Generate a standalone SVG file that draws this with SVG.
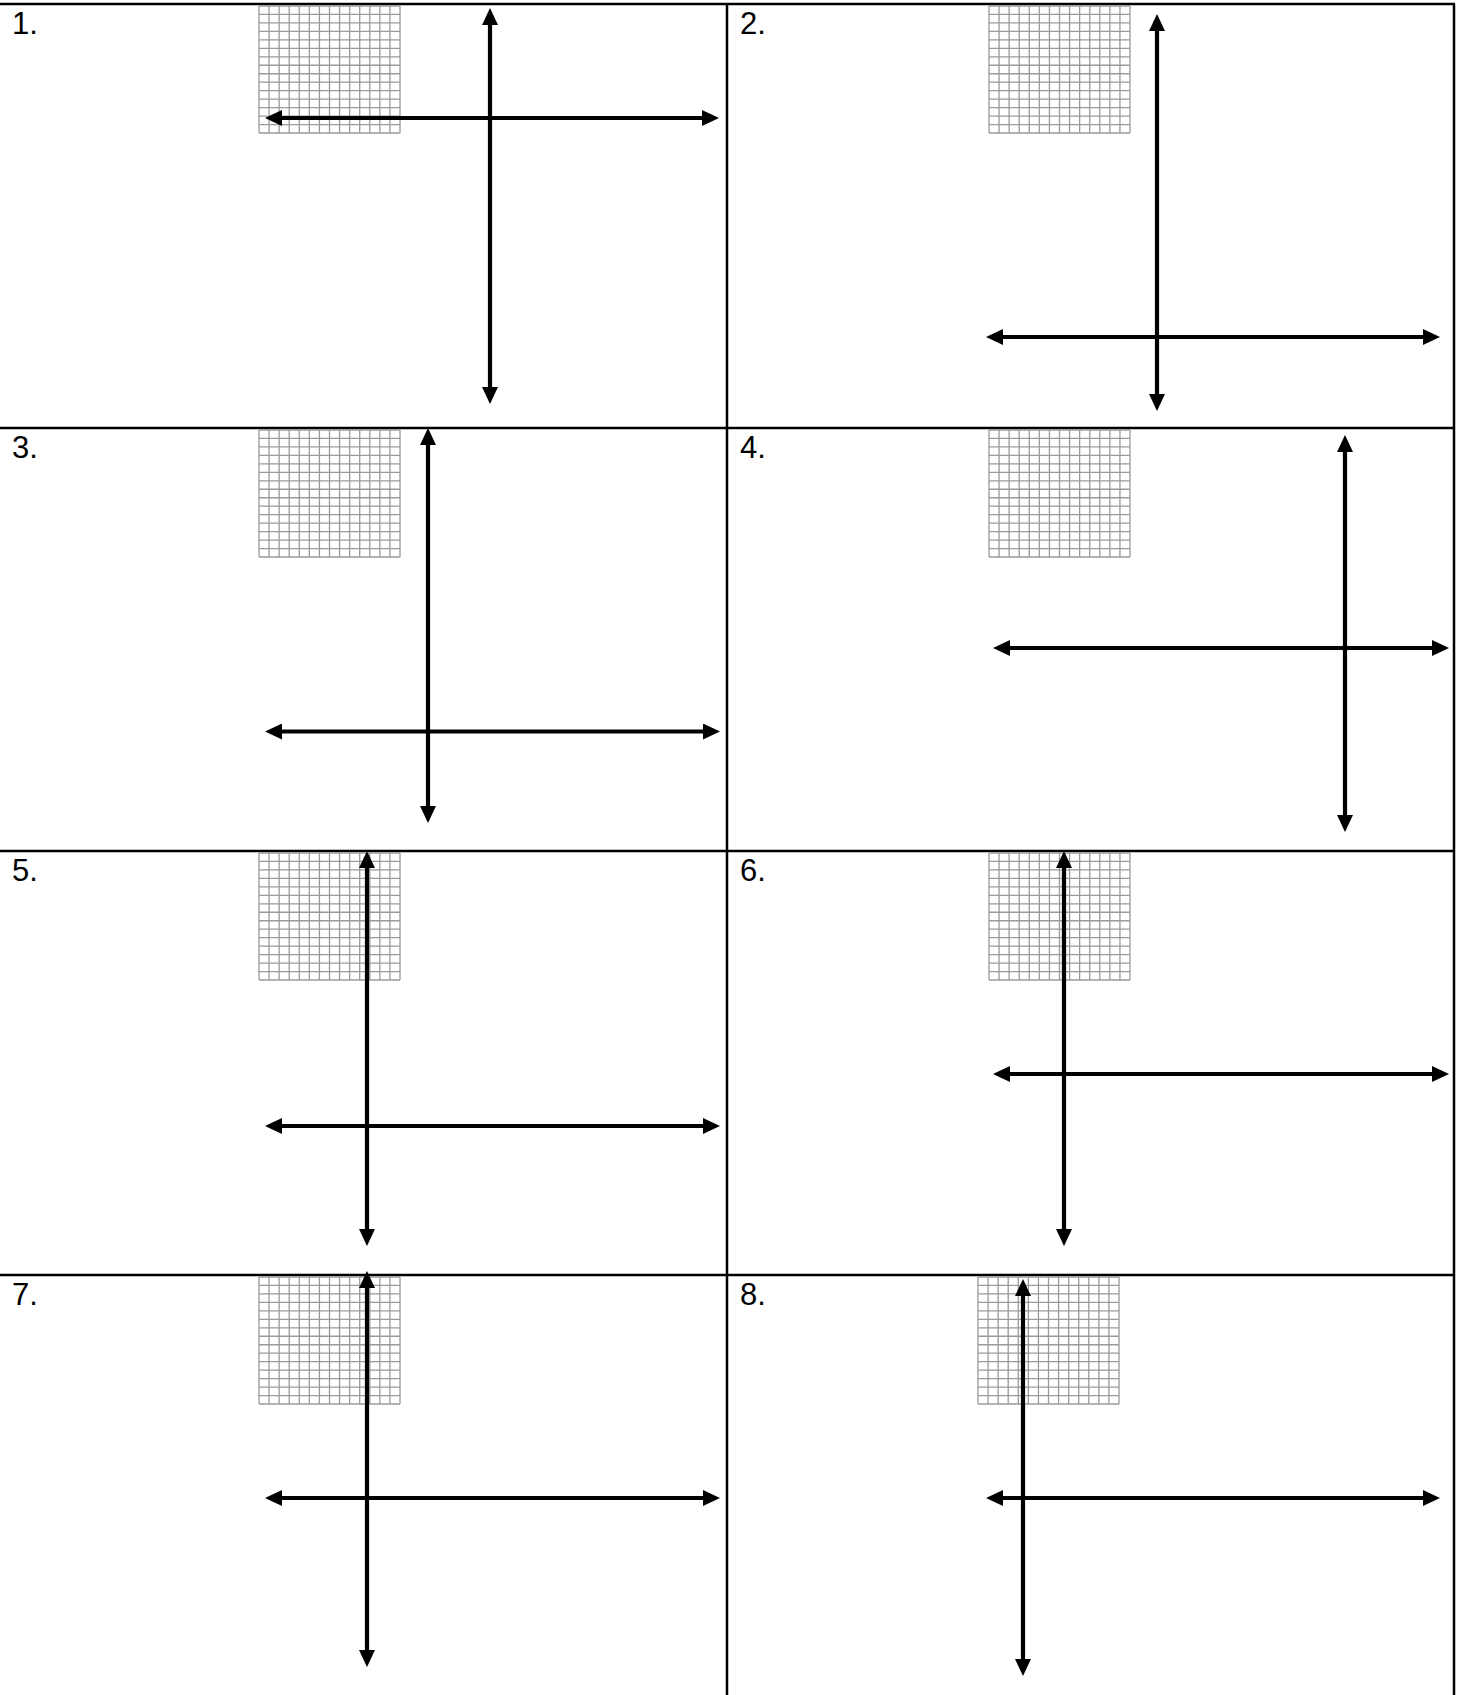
<svg xmlns="http://www.w3.org/2000/svg" xmlns:xlink="http://www.w3.org/1999/xlink" width="1461" height="1695" viewBox="0 0 1461 1695">
<style>
.border{stroke:#000;stroke-width:2.5;fill:none}
.axis{stroke:#000;stroke-width:4.2;fill:none;marker-start:url(#ah);marker-end:url(#ah)}
.lbl{font-family:"Liberation Sans",Arial,sans-serif;font-size:31px;fill:#000}
.gl{stroke:#9a9a9a;stroke-width:1.3;fill:none}
</style>
<defs>
<marker id="ah" markerUnits="userSpaceOnUse" markerWidth="17" markerHeight="16" viewBox="0 0 17 16" refX="7" refY="8" orient="auto-start-reverse">
<path d="M0,0 L17,8 L0,16 z" fill="#000"/>
</marker>
<g id="grid">
<rect x="0" y="0" width="141" height="127" fill="#fff"/>
<path class="gl" d="M0,0V127 M10.07,0V127 M20.14,0V127 M30.21,0V127 M40.29,0V127 M50.36,0V127 M60.43,0V127 M70.5,0V127 M80.57,0V127 M90.64,0V127 M100.71,0V127 M110.79,0V127 M120.86,0V127 M130.93,0V127 M141,0V127 M0,0H141 M0,8.47H141 M0,16.93H141 M0,25.4H141 M0,33.87H141 M0,42.33H141 M0,50.8H141 M0,59.27H141 M0,67.73H141 M0,76.2H141 M0,84.67H141 M0,93.13H141 M0,101.6H141 M0,110.07H141 M0,118.53H141 M0,127H141"/>
</g>
</defs>
<rect width="1461" height="1695" fill="#fff"/>
<g id="table">
<line class="border" x1="0" y1="4" x2="1455" y2="4"/>
<line class="border" x1="0" y1="428" x2="1455" y2="428"/>
<line class="border" x1="0" y1="851" x2="1455" y2="851"/>
<line class="border" x1="0" y1="1275" x2="1455" y2="1275"/>
<line class="border" x1="727" y1="4" x2="727" y2="1695"/>
<line class="border" x1="1454" y1="4" x2="1454" y2="1695"/>
</g>
<g id="panel1">
<text class="lbl" x="12" y="34">1.</text>
<use xlink:href="#grid" x="259" y="6"/>
</g>
<g id="panel2">
<text class="lbl" x="740" y="34">2.</text>
<use xlink:href="#grid" x="989" y="6"/>
</g>
<g id="panel3">
<text class="lbl" x="12" y="458">3.</text>
<use xlink:href="#grid" x="259" y="430"/>
</g>
<g id="panel4">
<text class="lbl" x="740" y="458">4.</text>
<use xlink:href="#grid" x="989" y="430"/>
</g>
<g id="panel5">
<text class="lbl" x="12" y="881">5.</text>
<use xlink:href="#grid" x="259" y="853"/>
</g>
<g id="panel6">
<text class="lbl" x="740" y="881">6.</text>
<use xlink:href="#grid" x="989" y="853"/>
</g>
<g id="panel7">
<text class="lbl" x="12" y="1305">7.</text>
<use xlink:href="#grid" x="259" y="1277"/>
</g>
<g id="panel8">
<text class="lbl" x="740" y="1305">8.</text>
<use xlink:href="#grid" x="978" y="1277"/>
</g>
<g id="axes">
<line class="axis" x1="490" y1="18" x2="490" y2="394"/>
<line class="axis" x1="275" y1="118" x2="709" y2="118"/>
<line class="axis" x1="1157" y1="24" x2="1157" y2="401"/>
<line class="axis" x1="996" y1="337" x2="1430" y2="337"/>
<line class="axis" x1="428" y1="438" x2="428" y2="813"/>
<line class="axis" x1="275" y1="731.5" x2="710" y2="731.5"/>
<line class="axis" x1="1345" y1="445" x2="1345" y2="822"/>
<line class="axis" x1="1003" y1="648" x2="1439" y2="648"/>
<line class="axis" x1="367" y1="861" x2="367" y2="1236"/>
<line class="axis" x1="275" y1="1126" x2="710" y2="1126"/>
<line class="axis" x1="1064" y1="861" x2="1064" y2="1236"/>
<line class="axis" x1="1003" y1="1074" x2="1439" y2="1074"/>
<line class="axis" x1="367" y1="1281" x2="367" y2="1657"/>
<line class="axis" x1="275" y1="1498" x2="710" y2="1498"/>
<line class="axis" x1="1023" y1="1289" x2="1023" y2="1666"/>
<line class="axis" x1="996" y1="1498" x2="1430" y2="1498"/>
</g>
</svg>
